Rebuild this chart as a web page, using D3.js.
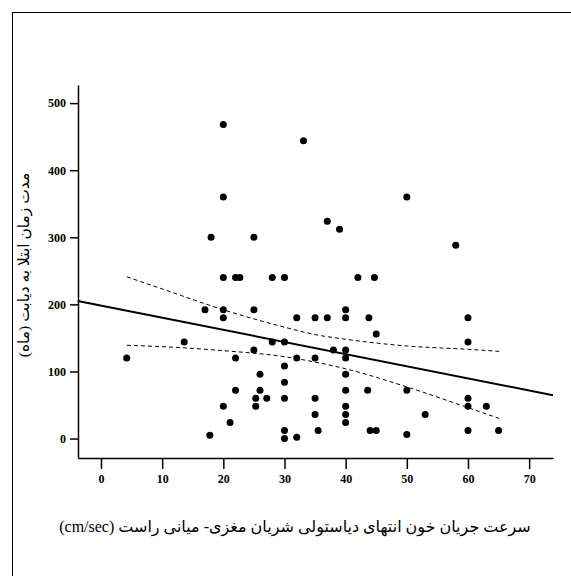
<!DOCTYPE html>
<html>
<head>
<meta charset="utf-8">
<script src="https://cdn.jsdelivr.net/npm/d3@7"></script>
<style>
  body { margin: 0; background: #fff; }
  svg text { font-family: "Liberation Serif", "DejaVu Sans", serif; }
</style>
</head>
<body>
<div class="chart"></div>
<script>
// blood flow velocity (cm/sec) vs duration of diabetes (months)
const velocity = [4.2, 13.6, 17, 17.8, 18, 20, 20, 20, 20, 20, 20, 21.1, 22, 22.7, 22, 22,
    25, 25, 25, 25.3, 25.3, 26, 26, 27.1, 28, 28, 30, 30, 30, 30, 30, 30, 30,
    32, 32, 32, 33.1, 35, 35, 35, 35, 35.5, 37, 37, 38, 39,
    40, 40, 40, 40, 40, 40, 40, 40, 40, 42, 43.6, 43.8, 44, 44.7, 45, 45,
    50, 50, 50, 53, 58, 60, 60, 60, 60, 60, 63, 65]
const duration = [120, 144, 192, 5, 300, 468, 360, 240, 192, 180, 48, 24, 240, 240, 120, 72,
    300, 192, 132, 60, 48, 96, 72, 60, 240, 144, 240, 144, 108, 84, 60, 12, 0,
    180, 120, 2, 444, 180, 120, 60, 36, 12, 324, 180, 132, 312,
    192, 180, 132, 120, 96, 72, 48, 36, 24, 240, 72, 180, 12, 240, 156, 12,
    360, 72, 6, 36, 288, 180, 144, 60, 48, 12, 48, 12]

// fit line read at the axis edges
const fitX = [-3.8, 73.9]
const fitY = [205, 64.6]

// 95% confidence band
const bandX = [4.25, 10, 20, 30, 35, 40, 50, 60, 65.1]
const bandUpper = [241, 223, 192, 166, 155, 148, 138, 133, 130]
const bandLower = [139, 137, 131, 122, 114, 104, 77, 46, 30]

const xTicks = [0, 10, 20, 30, 40, 50, 60, 70]
const yTicks = [0, 100, 200, 300, 400, 500]

const xLabel = 'سرعت جریان خون انتهای دیاستولی شریان مغزی- میانی راست (cm/sec)'
const yLabel = 'مدت زمان ابتلا به دیابت (ماه)'

const width = 571, height = 576
const margin = { top: 85, left: 78, right: 18, bottom: 118 }

const svg = d3.select('.chart')
    .append('svg')
    .attr('width', width)
    .attr('height', height)

// outer frame (right and bottom edges fall outside the picture)
svg.append('rect')
    .attr('x', 12.5)
    .attr('y', 12.5)
    .attr('width', width)
    .attr('height', height)
    .attr('fill', 'none')
    .attr('stroke', '#000')
    .attr('stroke-width', 1)

const x = d3.scaleLinear()
    .domain([-3.76, 73.9])
    .range([margin.left, width - margin.right])

const y = d3.scaleLinear()
    .domain([-29, 527])
    .range([height - margin.bottom, margin.top])

const xAxis = svg.append('g')
    .attr('transform', `translate(0,${height - margin.bottom})`)
    .call(d3.axisBottom(x).tickValues(xTicks).tickSize(11).tickSizeOuter(0).tickPadding(5))

const yAxis = svg.append('g')
    .attr('transform', `translate(${margin.left},0)`)
    .call(d3.axisLeft(y).tickValues(yTicks).tickSize(8).tickSizeOuter(0).tickPadding(4))

for (const g of [xAxis, yAxis]) {
    g.selectAll('path, line').attr('stroke', '#000').attr('stroke-width', 1.5)
    g.selectAll('text')
        .attr('fill', '#000')
        .style('font-family', '"Liberation Serif", serif')
        .style('font-weight', 'bold')
        .style('font-size', '12px')
}

// confidence band
const line = d3.line()
    .x(d => x(d[0]))
    .y(d => y(d[1]))

svg.append('path')
    .datum(bandX.map((v, i) => [v, bandUpper[i]]))
    .attr('d', line.curve(d3.curveMonotoneX))
    .attr('fill', 'none')
    .attr('stroke', '#000')
    .attr('stroke-width', 1)
    .attr('stroke-dasharray', '4,3')

svg.append('path')
    .datum(bandX.map((v, i) => [v, bandLower[i]]))
    .attr('d', line.curve(d3.curveMonotoneX))
    .attr('fill', 'none')
    .attr('stroke', '#000')
    .attr('stroke-width', 1)
    .attr('stroke-dasharray', '4,3')

// fit line
svg.append('path')
    .datum(fitX.map((v, i) => [v, fitY[i]]))
    .attr('d', line.curve(d3.curveLinear))
    .attr('fill', 'none')
    .attr('stroke', '#000')
    .attr('stroke-width', 2)

svg.selectAll('circle')
    .data(velocity.map((v, i) => ({ v, d: duration[i] })))
    .enter()
    .append('circle')
    .attr('cx', d => x(d.v))
    .attr('cy', d => y(d.d))
    .attr('r', 3.5)
    .attr('fill', '#000')

svg.append('text')
    .attr('x', 295)
    .attr('y', 532)
    .attr('text-anchor', 'middle')
    .attr('direction', 'rtl')
    .style('font-size', '16px')
    .text(xLabel)

svg.append('text')
    .attr('transform', 'translate(29,265) rotate(-90)')
    .attr('text-anchor', 'middle')
    .attr('direction', 'rtl')
    .style('font-size', '15.5px')
    .text(yLabel)
</script>
</body>
</html>
